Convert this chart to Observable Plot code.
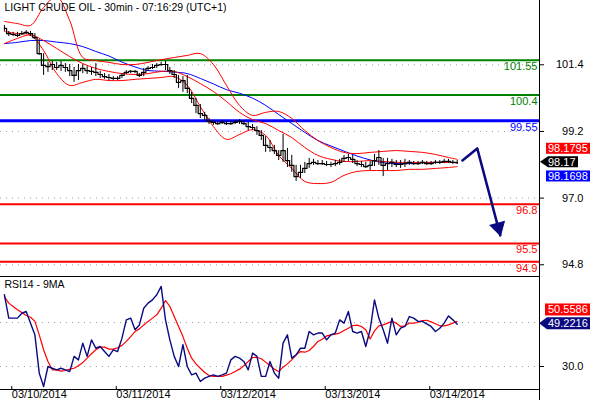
<!DOCTYPE html>
<html>
<head>
<meta charset="utf-8">
<script src="https://cdn.jsdelivr.net/npm/d3@7"></script>
<script src="https://cdn.jsdelivr.net/npm/@observablehq/plot@0.6"></script>
<style>
  body { margin: 0; background: #fff; }
  #chart { position: relative; width: 590px; height: 400px; overflow: hidden; background: #fff;
           font-family: "Liberation Sans", Arial, sans-serif; }
  #chart svg { position: absolute; left: 0; overflow: visible; }
</style>
</head>
<body>
<div id="chart"></div>
<script>
// ---------------- DATA ----------------
const chartTitle = "LIGHT CRUDE OIL - 30min - 07:16:29 (UTC+1)";
const rsiTitle = "RSI14 - 9MA";

// hourly bars, hours counted from 03/10/2014 00:00 (first bar at hour -1)
const firstBarHour = -1;
const close = [102.60,102.43,102.40,102.37,102.43,102.47,102.43,102.30,101.77,101.38,
  101.34,101.41,101.31,101.38,101.31,101.21,101.05,101.21,101.28,101.21,
  101.18,101.15,101.08,101.01,100.98,100.95,100.95,101.05,101.15,101.18,
  101.18,101.05,101.15,101.28,101.31,101.38,101.41,101.41,101.21,101.08,
  100.82,100.88,100.62,100.29,100.06,99.79,99.73,99.53,99.50,99.46,
  99.50,99.46,99.46,99.50,99.53,99.46,99.36,99.33,99.23,99.07,
  98.74,98.67,98.57,98.41,98.57,98.24,98.08,97.71,97.85,97.98,
  98.14,98.18,98.14,98.14,98.11,98.11,98.14,98.18,98.31,98.34,
  98.28,98.14,98.11,98.04,98.08,98.24,98.34,98.08,98.14,98.18,
  98.11,98.11,98.14,98.18,98.14,98.14,98.18,98.14,98.14,98.18,
  98.18,98.21,98.21,98.18,98.17];
const high = [102.70,102.50,102.47,102.47,102.50,102.53,102.50,102.43,102.23,101.77,
  101.48,101.51,101.48,101.51,101.44,101.41,101.31,101.41,101.41,101.34,
  101.31,101.44,101.18,101.11,101.08,101.01,101.01,101.11,101.21,101.21,
  101.21,101.11,101.28,101.34,101.41,101.44,101.48,101.51,101.31,101.21,
  101.05,101.01,101.05,100.49,100.29,100.09,99.83,99.63,99.56,99.53,
  99.56,99.53,99.53,99.56,99.59,99.56,99.50,99.43,99.36,99.23,
  99.03,98.90,98.74,98.57,99.10,98.64,98.41,98.08,98.08,98.18,
  98.31,98.28,98.24,98.24,98.21,98.18,98.24,98.28,98.41,98.44,
  98.41,98.24,98.21,98.18,98.21,98.44,98.57,98.31,98.31,98.28,
  98.24,98.24,98.28,98.24,98.21,98.21,98.24,98.21,98.21,98.24,
  98.24,98.28,98.28,98.24,98.24];
const low = [102.50,102.33,102.33,102.30,102.37,102.40,102.33,102.23,101.71,101.05,
  101.15,101.21,101.21,101.18,101.15,101.01,100.82,100.88,101.11,101.08,
  101.05,101.01,100.95,100.92,100.88,100.88,100.88,100.95,101.08,101.11,
  101.11,100.98,101.01,101.18,101.24,101.28,101.34,101.21,101.08,100.95,
  100.62,100.49,100.45,100.12,99.79,99.63,99.56,99.43,99.40,99.40,
  99.43,99.40,99.40,99.43,99.43,99.40,99.23,99.23,99.07,98.90,
  98.51,98.51,98.44,98.24,98.18,98.01,97.85,97.55,97.65,97.81,
  97.98,98.08,98.08,98.08,98.04,98.01,98.04,98.08,98.18,98.21,
  98.14,98.04,98.01,97.98,97.91,98.04,98.08,97.71,97.91,98.01,
  98.01,97.98,98.01,98.08,98.08,98.08,98.11,98.08,98.08,98.11,
  98.11,98.14,98.14,98.11,98.11];

// indicator lines (Bollinger bands and moving average), every 3 hours
const bandHours = [-1,2,5,8,11,14,17,20,23,26,29,32,35,38,41,44,47,50,53,56,
  59,62,65,68,71,74,77,80,83,86,89,92,95,98,101,103];
const upperBand = [102.83,102.76,102.70,103.29,103.65,102.86,101.64,101.54,101.48,101.41,
  101.41,101.48,101.57,101.64,101.71,101.77,101.41,100.72,100.06,99.73,
  99.83,99.86,99.63,99.23,98.90,98.67,98.51,98.47,98.51,98.54,
  98.57,98.54,98.51,98.44,98.34,98.28];
const middleBand = [102.50,102.43,102.40,102.20,101.94,101.67,101.44,101.28,101.18,101.11,
  101.08,101.11,101.18,101.18,101.01,100.78,100.52,100.19,99.83,99.59,
  99.46,99.23,99.00,98.67,98.41,98.28,98.21,98.21,98.24,98.21,
  98.18,98.18,98.18,98.18,98.18,98.1795];
const lowerBand = [102.10,102.27,102.37,101.87,101.11,100.72,100.82,100.92,100.88,100.88,
  100.92,100.95,100.98,101.01,100.72,100.02,99.36,98.94,99.10,99.26,
  99.07,98.41,97.98,97.55,97.48,97.52,97.75,97.88,97.91,97.91,
  97.91,97.95,97.95,97.98,98.01,98.04];
const movingAverage = [102.10,102.14,102.20,102.20,102.15,102.10,102.00,101.84,101.69,101.49,
  101.33,101.21,101.19,101.16,101.11,100.95,100.77,100.58,100.46,100.30,
  100.06,99.76,99.46,99.17,98.90,98.72,98.55,98.39,98.26,98.17,
  98.14,98.14,98.16,98.18,98.18,98.1698];

// support / resistance levels
const levelValues = [101.55, 100.4, 99.55, 96.8, 95.5, 94.9];
const levelLabels = ["101.55", "100.4", "99.55", "96.8", "95.5", "94.9"];
const levelKinds = ["resistance", "resistance", "pivot", "support", "support", "support"];

// projected path (arrow)
const forecastHours = [104.2, 107.6, 112.9];
const forecastPrices = [98.24, 98.64, 95.77];

// price axis ticks
const priceTicks = [101.4, 99.2, 97.0, 94.8];

// last-value tags
const priceTagValues = [98.1795, 98.17, 98.1698];
const priceTagLabels = ["98.1795", "98.17", "98.1698"];
const rsiTagValues = [50.5586, 49.2216];
const rsiTagLabels = ["50.5586", "49.2216"];

// RSI(14) and its 9-period MA, hourly
const rsi = [62.6,52.0,52.0,52.0,54.2,55.0,49.7,44.4,27.0,20.9,
  30.0,29.2,28.5,29.2,28.5,27.7,34.6,33.0,40.6,34.6,
  42.1,38.3,39.1,36.8,34.6,37.6,36.8,42.9,51.2,52.0,
  46.7,48.9,56.5,58.8,60.3,62.6,66.4,51.2,42.1,34.6,
  30.0,39.9,30.0,26.2,27.0,23.2,24.7,25.5,26.2,25.5,
  26.2,27.0,33.0,34.6,33.8,32.3,28.5,36.1,34.6,25.5,
  25.5,32.3,27.0,24.7,40.6,44.4,33.8,35.3,38.3,38.3,
  45.9,44.4,45.2,45.2,42.1,44.4,45.2,51.2,49.7,55.0,
  45.9,45.2,45.9,39.1,46.7,60.3,52.0,46.7,40.6,52.0,
  44.4,47.4,48.2,52.7,52.0,50.5,50.5,49.4,48.2,45.9,
  47.4,49.7,53.0,51.2,49.22];
const rsiMA = [61.8,58.8,57.3,55.8,54.5,53.2,52.4,50.5,44.4,37.6,
  32.3,28.5,28.5,27.9,28.2,28.8,29.2,30.3,31.8,33.8,
  35.8,37.6,38.8,38.8,37.9,37.9,38.5,39.6,41.4,43.6,
  45.9,47.1,48.9,50.5,52.0,53.5,56.5,60.0,57.3,52.7,
  48.2,43.6,38.3,33.8,31.2,29.2,27.3,25.9,25.5,25.5,
  25.5,26.1,26.7,27.7,28.8,30.3,32.3,34.1,34.2,33.5,
  32.0,30.5,28.8,27.7,29.7,31.2,33.0,35.3,36.8,36.5,
  37.3,39.1,41.4,42.4,43.9,44.4,44.7,45.2,46.4,47.4,
  48.6,48.8,48.2,46.7,42.5,46.2,48.5,48.9,49.7,50.5,
  49.7,48.2,48.5,49.7,49.7,50.0,50.9,51.0,50.3,49.4,
  48.5,48.5,48.9,49.7,50.56];
const rsiTicks = [30];
const rsiGrid = [30, 50];

// date axis
const dayTicks = [0, 24, 48, 72, 96];
const dayLabels = ["03/10/2014", "03/11/2014", "03/12/2014", "03/13/2014", "03/14/2014"];

// ---------------- SCALES / STYLE ----------------
const xDomain = [-1.9, 121.9];
const priceDomain = [94.413, 103.522];
const rsiDomain = [19.55, 70.91];
const FONT = '"Liberation Sans", Arial, sans-serif';
const levelColor = {resistance: "#008000", pivot: "#0000ff", support: "#ff0000"};
const NAVY = "#0a0a80";

const bars = close.map((c, i) => ({h: firstBarHour + i, c, hi: high[i], lo: low[i]}));
const bands = bandHours.map((h, i) => ({h, up: upperBand[i], mid: middleBand[i], lo: lowerBand[i], ma: movingAverage[i]}));
const levels = levelValues.map((v, i) => ({v, label: levelLabels[i], kind: levelKinds[i]}));
const forecast = forecastHours.map((h, i) => ({h, p: forecastPrices[i]}));
const rsiRows = rsi.map((v, i) => ({h: firstBarHour + i, rsi: v, ma: rsiMA[i]}));

const dotted = {stroke: "#a0a0a0", strokeOpacity: 1, strokeDasharray: "1,5"};

const main = Plot.plot({
  width: 590, height: 277,
  marginTop: 0, marginRight: 51, marginBottom: 1, marginLeft: 0,
  style: {fontFamily: FONT, fontSize: "11px", background: "transparent", overflow: "visible"},
  x: {domain: xDomain, axis: null},
  y: {domain: priceDomain, axis: null},
  marks: [
    Plot.gridY(priceTicks, dotted),
    Plot.ruleY(levels.filter(d => d.kind !== "pivot"), {y: "v", stroke: d => levelColor[d.kind], strokeWidth: 2}),
    Plot.ruleY(levels.filter(d => d.kind === "pivot"), {y: "v", stroke: d => levelColor[d.kind], strokeWidth: 3}),
    Plot.text(levels, {y: "v", text: "label", fill: d => levelColor[d.kind], frameAnchor: "right",
      textAnchor: "end", lineAnchor: "top", dx: -2, dy: 2, fontSize: 11}),
    Plot.line(bands, {x: "h", y: "ma", stroke: "#0000ff", strokeWidth: 1, curve: "catmull-rom"}),
    Plot.line(bands, {x: "h", y: "up", stroke: "#ff0000", strokeWidth: 1, curve: "catmull-rom"}),
    Plot.line(bands, {x: "h", y: "mid", stroke: "#ff0000", strokeWidth: 1, curve: "catmull-rom"}),
    Plot.line(bands, {x: "h", y: "lo", stroke: "#ff0000", strokeWidth: 1, curve: "catmull-rom"}),
    Plot.ruleX(bars, {x: "h", y1: "lo", y2: "hi", stroke: "#000", strokeWidth: 1}),
    Plot.line(bars, {x: "h", y: "c", stroke: "#000", strokeWidth: 1.2, curve: "step"}),
    Plot.line(forecast, {x: "h", y: "p", stroke: NAVY, strokeWidth: 2.5, strokeLinejoin: "round"}),
    Plot.dot(forecast.slice(2), {x: "h", y: "p", symbol: "triangle", r: 5.5, rotate: 165,
      fill: NAVY, stroke: NAVY, strokeWidth: 1, dx: -2, dy: -8}),
    Plot.axisY(priceTicks, {anchor: "right", tickSize: 4, tickPadding: 40, textAnchor: "end",
      tickFormat: d => d.toFixed(1), fontSize: 11, label: null}),
    Plot.ruleX([xDomain[1]], {stroke: "#000"}),
    Plot.text([chartTitle], {frameAnchor: "top-left", dx: 4, dy: 3, lineAnchor: "top", fontSize: 10.5, fill: "#000"})
  ]
});

const rsiPlot = Plot.plot({
  width: 590, height: 124,
  marginTop: 0, marginRight: 51, marginBottom: 11, marginLeft: 0,
  style: {fontFamily: FONT, fontSize: "11px", background: "transparent", overflow: "visible"},
  x: {domain: xDomain, axis: null},
  y: {domain: rsiDomain, axis: null},
  marks: [
    Plot.gridY(rsiGrid, dotted),
    Plot.line(rsiRows, {x: "h", y: "ma", stroke: "#ff0000", strokeWidth: 1.2}),
    Plot.line(rsiRows, {x: "h", y: "rsi", stroke: NAVY, strokeWidth: 1.4}),
    Plot.axisY(rsiTicks, {anchor: "right", tickSize: 4, tickPadding: 40, textAnchor: "end",
      tickFormat: d => d.toFixed(1), fontSize: 11, label: null}),
    Plot.axisX(dayTicks, {anchor: "bottom", tickSize: 4, tickPadding: 0, textAnchor: "start", dx: 3, dy: -3,
      tickFormat: d => dayLabels[dayTicks.indexOf(d)], fontSize: 11, label: null}),
    Plot.ruleY([rsiDomain[1]], {stroke: "#000"}),
    Plot.ruleY([rsiDomain[0]], {stroke: "#000"}),
    Plot.ruleX([xDomain[1]], {stroke: "#000", insetBottom: -11}),
    Plot.text([rsiTitle], {frameAnchor: "top-left", dx: 4, dy: 4, lineAnchor: "top", fontSize: 10.5, fill: "#000"})
  ]
});

main.style.top = "0px";
rsiPlot.style.top = "276px";
const chart = document.getElementById("chart");
chart.appendChild(main);
chart.appendChild(rsiPlot);

// last-value tags placed with the plots' own y scales
function addTags(svg, yScale, specs) {
  const g = d3.select(svg).append("g").attr("font-family", FONT).attr("font-size", 11)
    .attr("text-anchor", "start");
  specs.forEach(t => {
    const y = yScale.apply(t.value) + t.offset;
    const h = t.h;
    if (t.arrow) {
      g.append("path")
        .attr("d", `M${t.x0},${y}L${t.x0 + 8},${y - h / 2}L${t.x1},${y - h / 2}L${t.x1},${y + h / 2}L${t.x0 + 8},${y + h / 2}Z`)
        .attr("fill", t.fill);
    } else {
      g.append("rect").attr("x", t.x0).attr("y", y - h / 2).attr("width", t.x1 - t.x0).attr("height", h).attr("fill", t.fill);
    }
    g.append("text").attr("x", t.tx).attr("y", y).attr("dy", "0.36em").attr("text-anchor", "start")
      .attr("fill", "#fff").text(t.label);
  });
}
const py = main.scale("y");
addTags(main, py, [
  {value: priceTagValues[0], label: priceTagLabels[0], fill: "#ff0000", offset: -13.6, x0: 546, x1: 590, tx: 548, h: 11},
  {value: priceTagValues[1], label: priceTagLabels[1], fill: "#000000", offset: -0.5, x0: 540, x1: 578, tx: 548, h: 11, arrow: true},
  {value: priceTagValues[2], label: priceTagLabels[2], fill: "#0000ff", offset: 13.8, x0: 546, x1: 590, tx: 548, h: 11}
]);
const ry = rsiPlot.scale("y");
addTags(rsiPlot, ry, [
  {value: rsiTagValues[0], label: rsiTagLabels[0], fill: "#ff0000", offset: -11.3, x0: 545, x1: 590, tx: 548, h: 12},
  {value: rsiTagValues[1], label: rsiTagLabels[1], fill: NAVY, offset: -0.5, x0: 539, x1: 590, tx: 548, h: 12, arrow: true}
]);
</script>
</body>
</html>
